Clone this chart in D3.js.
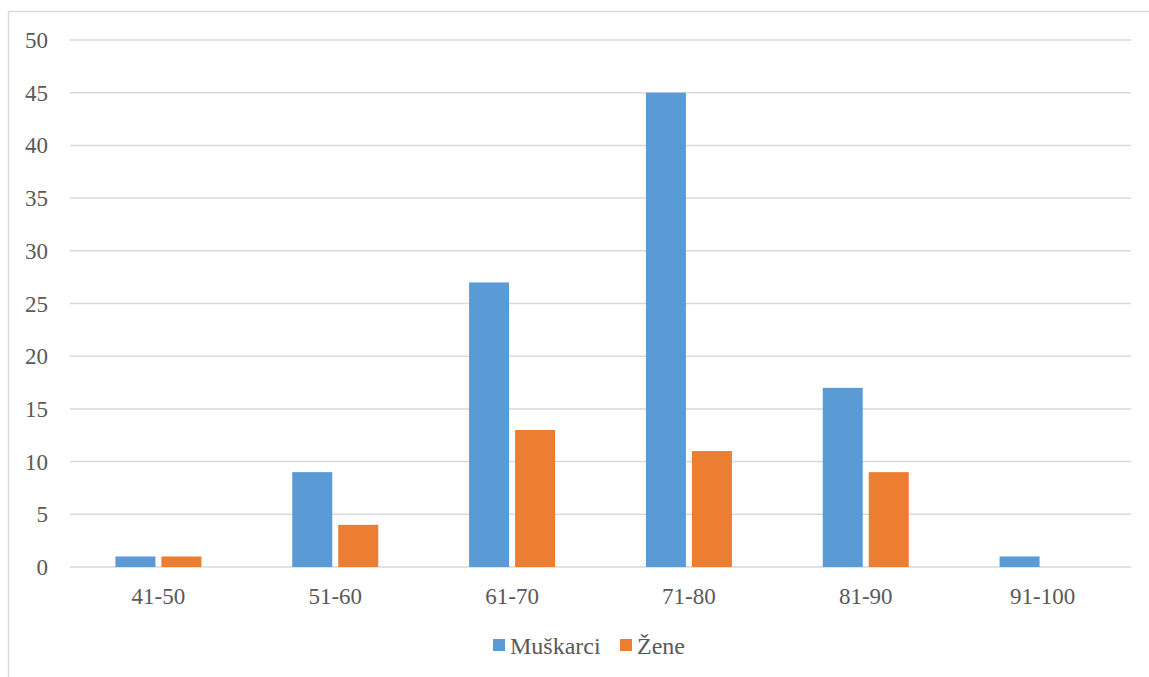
<!DOCTYPE html>
<html lang="hr">
<head>
    <meta charset="UTF-8">
    <title>Muškarci / Žene po dobi</title>
    <script src="https://cdn.jsdelivr.net/npm/d3@7"></script>
    <style>
        body { margin: 0; background: #fff; }
    </style>
</head>
<body>
<script>
    // podaci
    let categories = ['41-50', '51-60', '61-70', '71-80', '81-90', '91-100'];
    let seriesNames = ['Muškarci', 'Žene'];
    let muskarci = [1, 9, 27, 45, 17, 1];
    let zene = [1, 4, 13, 11, 9, 0];
    let yTicks = [0, 5, 10, 15, 20, 25, 30, 35, 40, 45, 50];
    let colors = ['#5B9BD5', '#ED7D31'];

    let width = 1149, height = 677;
    let svg = d3.select('body').append('svg')
        .attr('width', width)
        .attr('height', height)
        .attr('font-family', "'Liberation Serif', 'Times New Roman', 'DejaVu Serif', serif");

    // okvir grafikona
    svg.append('rect')
        .attr('x', 8.5).attr('y', 11.5)
        .attr('width', width + 10).attr('height', height + 10)
        .attr('fill', 'none')
        .attr('stroke', '#d9d9d9')
        .attr('stroke-width', 1.5);

    let plotLeft = 70, plotRight = 1131, plotTop = 40, plotBottom = 567;

    let x = d3.scaleBand().domain(categories).range([plotLeft, plotRight]);
    let y = d3.scaleLinear().domain([0, 50]).range([plotBottom, plotTop]);

    // mreža
    svg.append('g').selectAll('line')
        .data(yTicks)
        .enter().append('line')
        .attr('x1', plotLeft).attr('x2', plotRight)
        .attr('y1', d => y(d)).attr('y2', d => y(d))
        .attr('stroke', '#d9d9d9')
        .attr('stroke-width', 1.5);

    // oznake y osi
    svg.append('g').selectAll('text')
        .data(yTicks)
        .enter().append('text')
        .attr('x', 48)
        .attr('y', d => y(d) + 8)
        .attr('text-anchor', 'end')
        .attr('fill', '#595959')
        .style('font-size', '23px')
        .text(d => d);

    // stupci
    let barW = 40, gap = 6;
    let series = [muskarci, zene];
    series.forEach(function (vals, s) {
        svg.append('g').selectAll('rect')
            .data(vals)
            .enter().append('rect')
            .attr('x', (d, i) => x(categories[i]) + x.bandwidth() / 2 + (s === 0 ? -gap / 2 - barW : gap / 2))
            .attr('y', d => y(d))
            .attr('width', barW)
            .attr('height', d => plotBottom - y(d))
            .attr('fill', colors[s]);
    });

    // oznake x osi
    svg.append('g').selectAll('text')
        .data(categories)
        .enter().append('text')
        .attr('x', d => x(d) + x.bandwidth() / 2)
        .attr('y', 604)
        .attr('text-anchor', 'middle')
        .attr('fill', '#595959')
        .style('font-size', '23px')
        .text(d => d);

    // legenda
    let legend = svg.append('g');
    let legX = [493, 620];
    seriesNames.forEach(function (name, i) {
        legend.append('rect')
            .attr('x', legX[i]).attr('y', 639)
            .attr('width', 12).attr('height', 12)
            .attr('fill', colors[i]);
        legend.append('text')
            .attr('x', legX[i] + 17)
            .attr('y', 654)
            .attr('fill', '#595959')
            .style('font-size', '24px')
            .text(name);
    });
</script>
</body>
</html>
